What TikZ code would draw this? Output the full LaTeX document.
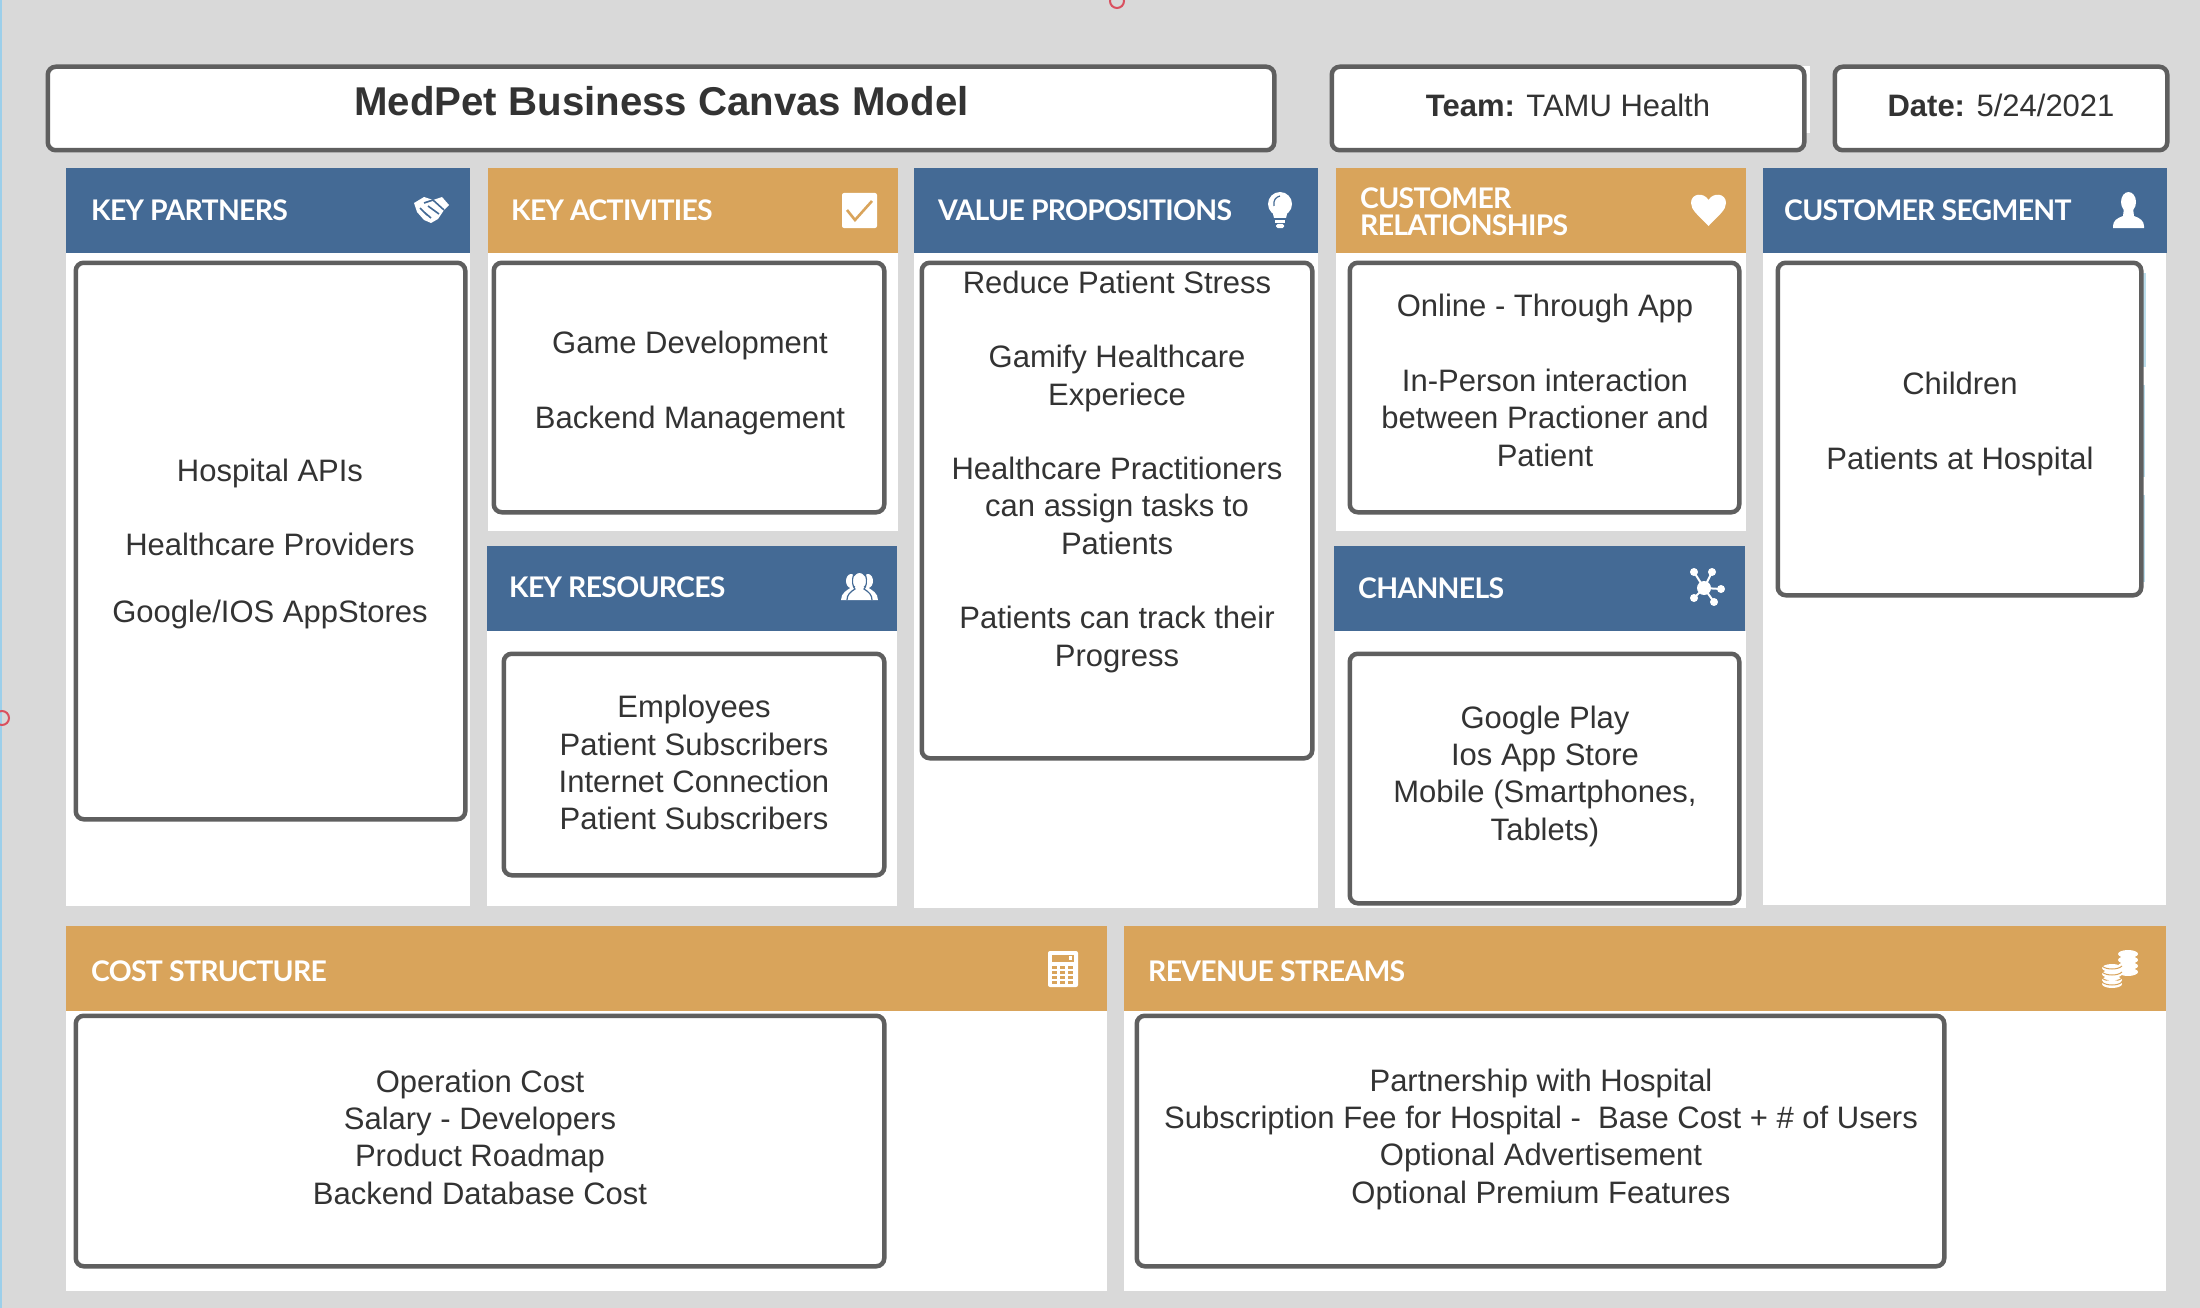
\documentclass[tikz,border=0pt]{standalone}
\usepackage{fontspec}
\setmainfont{Liberation Sans}
\newfontfamily\hdrfont[LetterSpace=-2.5]{Lato Bold}
\definecolor{bgc}{HTML}{D9D9D9}
\definecolor{bluec}{HTML}{446A95}
\definecolor{orc}{HTML}{D9A45B}
\definecolor{edgec}{HTML}{5F5F5F}
\definecolor{txtc}{HTML}{333333}
\definecolor{skyc}{HTML}{BBDDEB}
\definecolor{linec}{HTML}{9CCFEA}
\definecolor{markc}{HTML}{D9505F}
\newcommand{\rb}[6]{\node[#6,minimum width={(#4-#2)*1pt},minimum height={(#5-#3)*1pt}] (#1) at ({(#2+#4)/2},{(#3+#5)/2}) {};}
\newcommand{\rc}[5]{\node[card,minimum width={(#4-#2-3.5)*1pt},minimum height={(#5-#3-3.5)*1pt}] (#1) at ({(#2+#4)/2},{(#3+#5)/2}) {};}
\newcommand{\bst}{\rule[-11pt]{0pt}{37pt}}
\tikzset{
  x=1pt,y=-1pt,
  panel/.style={fill=white,inner sep=0,outer sep=0,rectangle},
  bluehdr/.style={fill=bluec,inner sep=0,outer sep=0,rectangle},
  orhdr/.style={fill=orc,inner sep=0,outer sep=0,rectangle},
  card/.style={draw=edgec,line width=4.5pt,fill=white,rounded corners=8pt,inner sep=0,rectangle},
  hdrlabel/.style={anchor=base west,inner sep=0,text=white,font=\hdrfont\fontsize{28.4}{28}\selectfont,align=left},
  body/.style={inner sep=0,text=txtc,align=center,font=\fontsize{31}{37.4}\selectfont,execute at begin node=\bst,execute at end node=\bst},
  ico/.style={fill=white,draw=none},
}
\begin{document}
\begin{tikzpicture}
\useasboundingbox (0,0) rectangle (2200,1308);
\fill[bgc] (0,0) rectangle (2200,1308);
\fill[linec] (0,0) rectangle (1.5,1308);
\draw[markc,line width=2pt] (1117,1) circle (7);
\draw[markc,line width=2pt] (2,718) circle (7);
% white panels
\rb{pKP}{66}{253}{470}{906}{panel}
\rb{pKA}{488}{253}{898}{531}{panel}
\rb{pKR}{487}{631}{897}{906}{panel}
\rb{pVP}{914}{253}{1318}{908}{panel}
\rb{pCR}{1336}{253}{1746}{531}{panel}
\rb{pCH}{1335}{631}{1746}{908}{panel}
\rb{pCS}{1763}{253}{2166}{905}{panel}
\rb{pCO}{66}{1011}{1107}{1291}{panel}
\rb{pRE}{1124}{1011}{2166}{1291}{panel}
% headers
\rb{hKP}{66}{168}{470}{253}{bluehdr}
\rb{hKA}{488}{168}{898}{253}{orhdr}
\rb{hVP}{914}{168}{1318}{253}{bluehdr}
\rb{hCR}{1336}{168}{1746}{253}{orhdr}
\rb{hCS}{1763}{168}{2167}{253}{bluehdr}
\rb{hKR}{487}{546}{897}{631}{bluehdr}
\rb{hCH}{1334}{546}{1745}{631}{bluehdr}
\rb{hCO}{66}{926}{1107}{1011}{orhdr}
\rb{hRE}{1124}{926}{2166}{1011}{orhdr}
% header labels
\node[hdrlabel] (lKP) at (91,220) {KEY PARTNERS};
\node[hdrlabel] (lKA) at (511,220) {KEY ACTIVITIES};
\node[hdrlabel] (lVP) at (938,220) {VALUE PROPOSITIONS};
\node[hdrlabel] (lCR) at (1360,236) {CUSTOMER\\RELATIONSHIPS};
\node[hdrlabel] (lCS) at (1784,221) {CUSTOMER SEGMENT};
\node[hdrlabel] (lKR) at (509,597) {KEY RESOURCES};
\node[hdrlabel] (lCH) at (1358,598) {CHANNELS};
\node[hdrlabel] (lCO) at (91,981) {COST STRUCTURE};
\node[hdrlabel] (lRE) at (1148,981) {REVENUE STREAMS};
% top boxes
\fill[white] (1800,66) rectangle (1810,133);
\rc{cT}{46}{65}{1276}{152}
\rc{cTe}{1330}{65}{1806}{152}
\rc{cD}{1833}{65}{2169}{152}
\node[inner sep=0,text=txtc,font=\bfseries\fontsize{40.2}{46}\selectfont] (tT) at (661.5,101) {MedPet Business Canvas Model};
\node[inner sep=0,text=txtc,font=\fontsize{31}{37}\selectfont] (tTe) at (1568,105) {\textbf{Team:} TAMU Health};
\node[inner sep=0,text=txtc,font=\fontsize{31}{37}\selectfont] (tD) at (2001,105) {\textbf{Date:} 5/24/2021};
% sky slivers
\fill[skyc] (2141,273) rectangle (2146,367);
\fill[skyc] (2141,385) rectangle (2145,477);
\fill[skyc] (2141,495) rectangle (2145,582);
% cards
\rc{cKP}{74}{261}{467}{821}
\rc{cKA}{492}{261}{886}{514}
\rc{cKR}{502}{652}{886}{877}
\rc{cVP}{920}{261}{1314}{760}
\rc{cCR}{1348}{261}{1741}{514}
\rc{cCH}{1348}{652}{1741}{905}
\rc{cCS}{1776}{261}{2143}{597}
\rc{cCO}{74}{1014}{886}{1268}
\rc{cRE}{1135}{1014}{1946}{1268}
% card text
\node[body] (tKP) at (270,546.5) {Hospital APIs\\[37pt]Healthcare Providers\\[29.5pt]Google/IOS AppStores};
\node[body] (tKA) at (690,385) {Game Development\\[37.5pt]Backend Management};
\node[body] (tKR) at (694,768) {Employees\\Patient Subscribers\\Internet Connection\\Patient Subscribers};
\node[body] (tVP) at (1117,474) {Reduce Patient Stress\\[37pt]Gamify Healthcare\\Experiece\\[37pt]Healthcare Practitioners\\can assign tasks to\\Patients\\[37pt]Patients can track their\\Progress};
\node[body] (tCR) at (1545,385.5) {Online - Through App\\[37.5pt]In-Person interaction\\between Practioner and\\Patient};
\node[body] (tCH) at (1545,778.5) {Google Play\\Ios App Store\\Mobile (Smartphones,\\Tablets)};
\node[body] (tCS) at (1960,426) {Children\\[38pt]Patients at Hospital};
\node[body] (tCO) at (480,1142.5) {Operation Cost\\Salary - Developers\\Product Roadmap\\Backend Database Cost};
\node[body] (tRE) at (1541,1141.5) {Partnership with Hospital\\Subscription Fee for Hospital -\ \ Base Cost + \# of Users\\Optional Advertisement\\Optional Premium Features};
% --- icons ---
% handshake
\fill[ico] (414,203) -- (424,197) -- (433,200) -- (442,197) -- (449,205) -- (444,210) -- (438,219) -- (431,223) -- (424,220) -- (417,212) -- cycle;
\draw[bluec,line width=1.6pt] (424,203) -- (433,200) (428,206) -- (439,214) (424,212) -- (431,218) (420,208) -- (427,215) (433,200) -- (444,210);
% checkbox
\fill[ico,rounded corners=2pt] (842,193) rectangle (877,228);
\draw[orc,line width=2.6pt] (847,210) -- (855,220) -- (872,201);
% bulb
\fill[ico] (1280,204) circle (12);
\fill[ico] (1272,210) -- (1288,210) -- (1286,218) -- (1274,218) -- cycle;
\fill[ico] (1275,220) rectangle (1285,223);
\fill[ico,rounded corners=1.5pt] (1276,224) rectangle (1284,228);
\draw[bluec,line width=1.2pt] (1274,206) .. controls (1273,200) and (1276,197) .. (1280,196);
% heart
\fill[ico] (1708.5,226) .. controls (1698,215) and (1691,210) .. (1691,203) .. controls (1691,193) and (1704,192) .. (1708.5,200) .. controls (1713,192) and (1726,193) .. (1726,203) .. controls (1726,210) and (1719,215) .. (1708.5,226) -- cycle;
% person
\fill[ico] (2128.5,202) ellipse (7.5 and 10);
\fill[ico] (2124,208) -- (2133,208) -- (2134,216) .. controls (2140,218) and (2144,221) .. (2144,226) -- (2144,228) -- (2113,228) -- (2113,226) .. controls (2113,221) and (2117,218) .. (2123,216) -- cycle;
% users
\fill[ico] (859.5,581) ellipse (6 and 8);
\fill[ico] (851,581) ellipse (5 and 7);
\fill[ico] (868,581) ellipse (5 and 7);
\fill[ico] (841,600) .. controls (841,593) and (847,590) .. (852,587) -- (867,587) .. controls (872,590) and (878,593) .. (878,600) -- cycle;
\draw[bluec,line width=1.2pt] (854,574) .. controls (851,581) and (853,587) .. (855,589) .. controls (850,592) and (847,595) .. (847,600);
\draw[bluec,line width=1.2pt] (865,574) .. controls (868,581) and (866,587) .. (864,589) .. controls (869,592) and (872,595) .. (872,600);
% network
\coordinate (nc) at (1704,588);
\foreach \p in {(1694,572),(1712,572),(1721,589),(1714,602),(1694,598)}{
  \draw[white,line width=2pt] (nc) -- \p;
  \fill[ico] \p circle (4);
}
\fill[ico] (nc) circle (7);
% calculator
\fill[ico,rounded corners=2pt] (1048,951) rectangle (1078,987);
\fill[orc] (1052,955) rectangle (1074,962);
\fill[ico] (1069,956) rectangle (1072,960);
\foreach \ky in {966,971,976,981}{
  \foreach \kx in {1052,1060,1068}{
    \fill[orc] (\kx,\ky) rectangle ++(5,2.6);
  }
}
% coins
\foreach \cy in {954,960,966,972}{
  \fill[ico] (2128,\cy) ellipse (10 and 4);
  \draw[orc,line width=1pt] (2118,\cy+2) .. controls (2122,\cy+6) and (2134,\cy+6) .. (2138,\cy+2);
}
\foreach \cy in {968,974,980,984}{
  \fill[ico] (2112,\cy) ellipse (10 and 4);
  \draw[orc,line width=1pt] (2102,\cy-2) .. controls (2106,\cy+2) and (2118,\cy+2) .. (2122,\cy-2);
}
\end{tikzpicture}
\end{document}
